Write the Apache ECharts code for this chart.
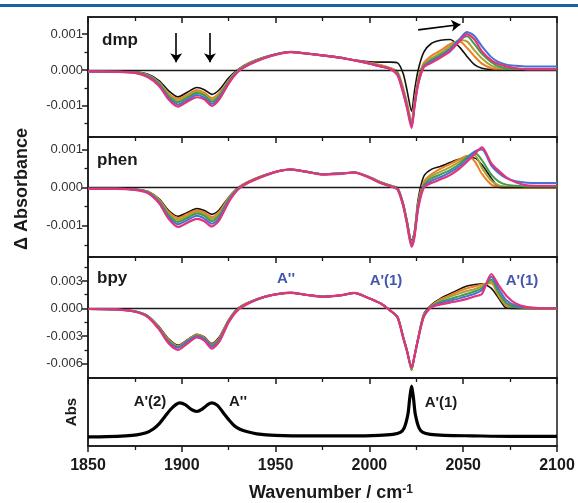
<!DOCTYPE html>
<html>
<head>
<meta charset="utf-8">
<script src="https://cdn.jsdelivr.net/npm/echarts@6/dist/echarts.min.js"></script>
<style>html,body{margin:0;padding:0;background:#fff}#chart{width:578px;height:503px}</style>
</head>
<body>
<div id="chart"></div>
<script>
// ---------- DATA ----------
// Wavenumber grid (cm^-1) shared by the three difference-spectra panels
const wavenumbers = [1850,1865,1875,1882,1888,1893,1898,1903,1908,1912,1916,1920,1925,1930,1936,1944,1952,1958,1966,1975,1985,1992,2000,2006,2011,2015,2018,2020,2022.5,2024,2026,2029,2033,2038,2043,2048,2052,2056,2060,2065,2069,2073,2078,2084,2090,2100];
// Difference absorbance values in units of 10^-3
const UNIT = 1e-3;
const dmpTrace1 = [-0.03,-0.03,-0.05,-0.12,-0.3,-0.58,-0.75,-0.62,-0.49,-0.55,-0.68,-0.55,-0.22,0.02,0.2,0.36,0.46,0.5,0.46,0.4,0.33,0.28,0.23,0.22,0.22,0.2,-0.1,-0.55,-1.15,-0.6,0.0,0.5,0.74,0.83,0.85,0.64,0.38,0.15,0.05,0.01,0,0,0,null,null,null];
const dmpTrace2 = [-0.04,-0.04,-0.06,-0.14,-0.35,-0.66,-0.8,-0.69,-0.56,-0.63,-0.78,-0.64,-0.28,0.0,0.19,0.35,0.46,0.5,0.46,0.41,0.34,0.27,0.2,0.14,0.06,-0.05,-0.5,-0.9,-1.45,-0.9,-0.25,0.2,0.4,0.55,0.72,0.8,0.62,0.38,0.18,0.05,0.01,0,0,0,0,0];
const dmpTrace3 = [-0.04,-0.04,-0.06,-0.15,-0.37,-0.69,-0.85,-0.73,-0.6,-0.67,-0.83,-0.68,-0.3,0.0,0.18,0.35,0.46,0.5,0.46,0.41,0.34,0.27,0.19,0.12,0.05,-0.08,-0.55,-0.95,-1.5,-0.95,-0.3,0.15,0.33,0.48,0.66,0.84,0.8,0.55,0.32,0.12,0.05,0.02,0.01,0.01,0.01,0.01];
const dmpTrace4 = [-0.04,-0.05,-0.07,-0.16,-0.39,-0.73,-0.9,-0.77,-0.64,-0.71,-0.88,-0.72,-0.32,-0.02,0.17,0.34,0.46,0.5,0.46,0.41,0.34,0.27,0.18,0.1,0.03,-0.1,-0.6,-1.0,-1.55,-1.0,-0.35,0.12,0.28,0.42,0.6,0.84,0.94,0.72,0.45,0.22,0.1,0.05,0.04,0.03,0.03,0.03];
const dmpTrace5 = [-0.04,-0.05,-0.08,-0.18,-0.42,-0.78,-0.96,-0.83,-0.7,-0.77,-0.94,-0.77,-0.35,-0.03,0.16,0.34,0.46,0.51,0.47,0.41,0.34,0.27,0.18,0.1,0.03,-0.12,-0.62,-1.02,-1.58,-1.02,-0.38,0.1,0.24,0.38,0.58,0.86,1.06,0.95,0.66,0.36,0.22,0.15,0.12,0.1,0.1,0.1];
const dmpTrace6 = [-0.04,-0.05,-0.08,-0.2,-0.45,-0.82,-1.02,-0.88,-0.76,-0.82,-1.0,-0.82,-0.38,-0.05,0.15,0.33,0.45,0.5,0.46,0.41,0.34,0.27,0.18,0.1,0.03,-0.15,-0.65,-1.05,-1.62,-1.05,-0.4,0.08,0.2,0.35,0.52,0.8,1.0,0.85,0.52,0.27,0.16,0.1,0.05,0.02,0.02,0.02];

const phenTrace1 = [-0.02,-0.02,-0.04,-0.1,-0.3,-0.6,-0.75,-0.65,-0.55,-0.6,-0.7,-0.58,-0.25,0.0,0.17,0.33,0.44,0.48,0.43,0.36,0.38,0.4,0.28,0.15,0.06,0.0,-0.4,-0.85,-1.4,-1.15,-0.3,0.3,0.48,0.56,0.66,0.75,0.78,0.78,0.6,0.25,0.01,0,0,0,0,0];
const phenTrace2 = [-0.02,-0.02,-0.04,-0.1,-0.32,-0.64,-0.8,-0.69,-0.59,-0.65,-0.77,-0.63,-0.27,0.0,0.17,0.33,0.44,0.48,0.42,0.35,0.37,0.4,0.28,0.14,0.06,-0.01,-0.43,-0.88,-1.45,-1.2,-0.4,0.15,0.35,0.5,0.62,0.74,0.84,0.7,0.36,0.08,0.02,0.01,0,0,0,0];
const phenTrace3 = [-0.02,-0.02,-0.05,-0.11,-0.34,-0.68,-0.85,-0.74,-0.63,-0.69,-0.82,-0.68,-0.29,-0.01,0.16,0.32,0.44,0.48,0.42,0.35,0.37,0.4,0.27,0.14,0.05,-0.02,-0.44,-0.9,-1.48,-1.23,-0.45,0.1,0.3,0.42,0.54,0.68,0.82,0.86,0.52,0.18,0.06,0.03,0.02,0.01,0.01,0.01];
const phenTrace4 = [-0.03,-0.03,-0.05,-0.12,-0.37,-0.72,-0.9,-0.79,-0.68,-0.74,-0.88,-0.73,-0.31,-0.02,0.16,0.32,0.44,0.48,0.42,0.35,0.37,0.4,0.27,0.13,0.05,-0.03,-0.45,-0.9,-1.5,-1.25,-0.48,0.06,0.24,0.35,0.46,0.62,0.8,0.92,0.72,0.34,0.16,0.08,0.05,0.03,0.03,0.03];
const phenTrace5 = [-0.03,-0.03,-0.05,-0.13,-0.39,-0.77,-0.96,-0.85,-0.74,-0.81,-0.95,-0.79,-0.34,-0.03,0.15,0.31,0.44,0.48,0.42,0.35,0.37,0.4,0.27,0.12,0.04,-0.04,-0.46,-0.92,-1.52,-1.27,-0.5,0.03,0.18,0.28,0.4,0.56,0.75,0.95,1.0,0.58,0.38,0.25,0.17,0.13,0.12,0.12];
const phenTrace6 = [-0.03,-0.03,-0.06,-0.15,-0.42,-0.82,-1.03,-0.92,-0.82,-0.88,-1.02,-0.85,-0.38,-0.05,0.14,0.31,0.44,0.48,0.42,0.34,0.36,0.4,0.26,0.12,0.04,-0.05,-0.48,-0.94,-1.55,-1.3,-0.55,0.0,0.12,0.22,0.33,0.5,0.68,0.88,1.06,0.64,0.44,0.27,0.14,0.06,0.05,0.05];

const bpyTrace1 = [-0.05,-0.1,-0.3,-0.8,-2.0,-3.3,-4.0,-3.4,-2.8,-3.1,-3.8,-3.1,-1.2,0.05,0.7,1.3,1.6,1.7,1.5,1.3,1.45,1.7,1.1,0.55,-0.2,-0.9,-3.0,-4.5,-6.7,-5.2,-3.1,-0.6,0.4,1.1,1.6,2.1,2.45,2.6,2.7,2.2,1.1,0.05,0,0,0,0];
const bpyTrace2 = [-0.05,-0.1,-0.3,-0.85,-2.1,-3.4,-4.1,-3.45,-2.85,-3.15,-3.9,-3.2,-1.25,0.0,0.68,1.28,1.6,1.7,1.5,1.3,1.45,1.7,1.1,0.55,-0.2,-0.9,-3.05,-4.5,-6.6,-5.2,-3.2,-0.7,0.3,1.0,1.45,1.9,2.2,2.4,2.6,2.75,1.3,0.3,0.05,0,0,0];
const bpyTrace3 = [-0.05,-0.1,-0.3,-0.88,-2.15,-3.5,-4.15,-3.5,-2.9,-3.2,-4.0,-3.3,-1.3,-0.03,0.66,1.27,1.6,1.7,1.5,1.3,1.45,1.7,1.1,0.55,-0.2,-0.92,-3.1,-4.55,-6.65,-5.25,-3.25,-0.75,0.25,0.9,1.3,1.65,1.9,2.1,2.4,2.95,1.45,0.45,0.1,0.03,0.01,0];
const bpyTrace4 = [-0.05,-0.1,-0.32,-0.9,-2.2,-3.55,-4.2,-3.55,-2.95,-3.25,-4.05,-3.35,-1.35,-0.06,0.64,1.26,1.6,1.71,1.5,1.29,1.45,1.7,1.1,0.55,-0.2,-0.95,-3.12,-4.55,-6.5,-5.2,-3.28,-0.8,0.2,0.75,1.05,1.35,1.6,1.85,2.2,3.15,1.7,0.6,0.15,0.05,0.03,0.02];
const bpyTrace5 = [-0.05,-0.1,-0.33,-0.92,-2.25,-3.65,-4.25,-3.6,-3.0,-3.3,-4.1,-3.45,-1.4,-0.1,0.62,1.25,1.6,1.72,1.5,1.29,1.45,1.7,1.1,0.55,-0.2,-0.97,-3.15,-4.6,-6.45,-5.2,-3.3,-0.85,0.18,0.6,0.85,1.1,1.35,1.6,2.0,3.45,2.1,0.9,0.3,0.1,0.06,0.05];
const bpyTrace6 = [-0.05,-0.1,-0.35,-0.95,-2.3,-3.8,-4.5,-3.8,-3.15,-3.5,-4.35,-3.6,-1.5,-0.15,0.6,1.25,1.6,1.72,1.5,1.28,1.45,1.7,1.1,0.55,-0.2,-1.0,-3.2,-4.6,-6.4,-5.2,-3.3,-0.9,0.15,0.45,0.65,0.85,1.05,1.3,1.6,3.75,2.5,1.4,0.55,0.15,0.05,0.03];

// Ground-state absorbance spectrum (normalised)
const absWavenumbers = [1850,1860,1870,1876,1881,1885,1888,1891,1894,1897,1899,1902,1905,1908,1911,1914,1916,1919,1922,1925,1928,1931,1935,1940,1950,1970,1990,2005,2012.5,2016.5,2018.5,2020.5,2021.5,2022.5,2023.5,2024.5,2026.5,2028.5,2032.5,2040,2055,2075,2100];
const absValues = [0.0,0.005,0.02,0.04,0.08,0.16,0.26,0.4,0.54,0.64,0.67,0.63,0.54,0.5,0.55,0.64,0.67,0.62,0.48,0.34,0.22,0.15,0.1,0.06,0.03,0.02,0.02,0.03,0.05,0.09,0.17,0.44,0.76,1.0,0.76,0.44,0.17,0.09,0.05,0.03,0.02,0.01,0.01];

// Tick values
const xTickLabels = [1850, 1900, 1950, 2000, 2050, 2100];
const mAbsMajorTicks = [-0.001, 0, 0.001];
const mAbsMinorTicks = [-0.0015, -0.0005, 0.0005];
const bpyMajorTicks = [-0.006, -0.003, 0, 0.003];
const bpyMinorTicks = [-0.0045, -0.0015, 0.0015, 0.0045];

// ---------- STYLE ----------
const traceColors = ['#111111', '#ee7f24', '#a9a233', '#3f9c4a', '#4b6fd4', '#e2347c'];
const traceWidths = [1.6, 2, 2, 2, 2, 2.2];
const FONT = 'Liberation Sans, Arial, Helvetica, sans-serif';
const INK = '#1a1a1a';

const panels = [
  { traces: [dmpTrace1, dmpTrace2, dmpTrace3, dmpTrace4, dmpTrace5, dmpTrace6], min: -0.00187, max: 0.00148, major: mAbsMajorTicks, minor: mAbsMinorTicks, top: 17, height: 120 },
  { traces: [phenTrace1, phenTrace2, phenTrace3, phenTrace4, phenTrace5, phenTrace6], min: -0.00182, max: 0.00133, major: mAbsMajorTicks, minor: mAbsMinorTicks, top: 137, height: 120 },
  { traces: [bpyTrace1, bpyTrace2, bpyTrace3, bpyTrace4, bpyTrace5, bpyTrace6], min: -0.00755, max: 0.0056, major: bpyMajorTicks, minor: bpyMinorTicks, top: 257, height: 121 }
];

const grid = [];
const xAxis = [];
const yAxis = [];
const series = [];

function xAxisFor(gi, showLabels, position, inside) {
  return {
    gridIndex: gi, type: 'value', min: 1850, max: 2100, interval: 50, position: position || 'bottom',
    axisLine: { show: true, onZero: false, lineStyle: { color: INK, width: 1.5 } },
    axisTick: { show: true, inside: !!inside, length: 6, lineStyle: { color: INK, width: 1.5 } },
    minorTick: { show: true, splitNumber: 2, length: 4, lineStyle: { color: INK, width: 1.3 } },
    splitLine: { show: false }, minorSplitLine: { show: false },
    axisLabel: { show: showLabels, customValues: xTickLabels, formatter: v => String(v), fontSize: 16, fontWeight: 'bold', color: INK, fontFamily: FONT, margin: 12 }
  };
}

panels.forEach((p, gi) => {
  grid.push({ left: 88, right: 21, top: p.top, height: p.height, show: true, borderColor: INK, borderWidth: 1.5, backgroundColor: 'transparent' });
  xAxis.push(xAxisFor(gi, false));
  const yMajorIndex = yAxis.length;
  yAxis.push({
    gridIndex: gi, type: 'value', position: 'left', min: p.min, max: p.max,
    axisLine: { show: true, onZero: false, lineStyle: { color: INK, width: 1.5 } },
    axisTick: { show: true, customValues: p.major, length: 6, lineStyle: { color: INK, width: 1.5 } },
    axisLabel: { show: true, customValues: p.major, formatter: v => v.toFixed(3), fontSize: 13, color: '#333', fontFamily: FONT, margin: 5 },
    splitLine: { show: false }
  });
  yAxis.push({
    gridIndex: gi, type: 'value', position: 'left', min: p.min, max: p.max,
    axisLine: { show: false },
    axisTick: { show: true, customValues: p.minor, length: 3.5, lineStyle: { color: INK, width: 1.3 } },
    axisLabel: { show: false }, splitLine: { show: false }
  });
  p.traces.forEach((tr, k) => {
    const data = [];
    wavenumbers.forEach((x, i) => { if (tr[i] !== null) data.push([x, tr[i] * UNIT]); });
    const s = {
      type: 'line', xAxisIndex: gi, yAxisIndex: yMajorIndex, data: data,
      showSymbol: false, smooth: 0.25, silent: true, animation: false,
      lineStyle: { color: traceColors[k], width: traceWidths[k] }, z: 2 + k
    };
    if (k === 0) {
      s.markLine = { silent: true, symbol: 'none', animation: false, label: { show: false },
        lineStyle: { color: INK, width: 1.3, type: 'solid' }, data: [{ yAxis: 0 }] };
    }
    series.push(s);
  });
});

// extra top axis for the first panel (inward ticks)
xAxis.push(xAxisFor(0, false, 'top', true));

// Abs panel
grid.push({ left: 88, right: 21, top: 378, height: 68, show: true, borderColor: INK, borderWidth: 1.5, backgroundColor: 'transparent' });
xAxis.push(xAxisFor(3, true));
const absYIndex = yAxis.length;
yAxis.push({ gridIndex: 3, type: 'value', position: 'left', min: -0.18, max: 1.16, axisLine: { show: true, lineStyle: { color: INK, width: 1.5 } }, axisTick: { show: false }, axisLabel: { show: false }, splitLine: { show: false } });
series.push({
  type: 'line', xAxisIndex: xAxis.length - 1, yAxisIndex: absYIndex,
  data: absWavenumbers.map((x, i) => [x, absValues[i]]),
  showSymbol: false, smooth: 0.3, silent: true, animation: false,
  lineStyle: { color: '#000', width: 3.2 }
});

// arrows on the dmp panel
series.push({
  type: 'line', xAxisIndex: 0, yAxisIndex: 0, data: [], silent: true, animation: false,
  markLine: {
    silent: true, animation: false, symbol: ['none', 'arrow'], symbolSize: 9, label: { show: false },
    lineStyle: { color: '#000', width: 1.6, type: 'solid' },
    data: [
      [{ coord: [1897, 0.00103] }, { coord: [1897, 0.00022] }],
      [{ coord: [1915, 0.00103] }, { coord: [1915, 0.00022] }],
      [{ coord: [2026, 0.00112] }, { coord: [2048.5, 0.00127] }]
    ]
  }
});

const blue = '#4356ad';
function txt(x, y, text, font, fill, extra, align) {
  return Object.assign({ type: 'text', x: x, y: y, silent: true, z: 100,
    style: { text: text, font: font, fill: fill, align: align || 'center', verticalAlign: 'middle' } }, extra || {});
}

const graphic = [
  { type: 'rect', shape: { x: 0, y: 4, width: 578, height: 3 }, style: { fill: '#1a62a3' }, silent: true },
  txt(102, 40, 'dmp', 'bold 17px ' + FONT, INK, null, 'left'),
  txt(97, 160, 'phen', 'bold 17px ' + FONT, INK, null, 'left'),
  txt(97, 278, 'bpy', 'bold 17px ' + FONT, INK, null, 'left'),
  txt(286, 279, "A''", 'bold 15px ' + FONT, blue),
  txt(386, 281, "A'(1)", 'bold 15px ' + FONT, blue),
  txt(522, 281, "A'(1)", 'bold 15px ' + FONT, blue),
  txt(150, 402, "A'(2)", 'bold 15px ' + FONT, INK),
  txt(238, 402, "A''", 'bold 15px ' + FONT, INK),
  txt(441, 403, "A'(1)", 'bold 15px ' + FONT, INK),
  txt(72, 412, 'Abs', 'bold 15px ' + FONT, INK, { rotation: Math.PI / 2 }),
  txt(22, 189, 'Δ Absorbance', 'bold 18px ' + FONT, INK, { rotation: Math.PI / 2 }),
  { type: 'text', x: 331, y: 493, silent: true, z: 100,
    style: { text: 'Wavenumber / cm{sup|-1}', font: 'bold 18px ' + FONT, fill: INK, align: 'center', verticalAlign: 'middle',
      rich: { sup: { font: 'bold 12px ' + FONT, fill: INK, verticalAlign: 'top', lineHeight: 12 } } } }
];

const chart = echarts.init(document.getElementById('chart'), null, { renderer: 'canvas' });
chart.setOption({
  animation: false,
  textStyle: { fontFamily: FONT },
  grid: grid, xAxis: xAxis, yAxis: yAxis, series: series, graphic: graphic
});
</script>
</body>
</html>
